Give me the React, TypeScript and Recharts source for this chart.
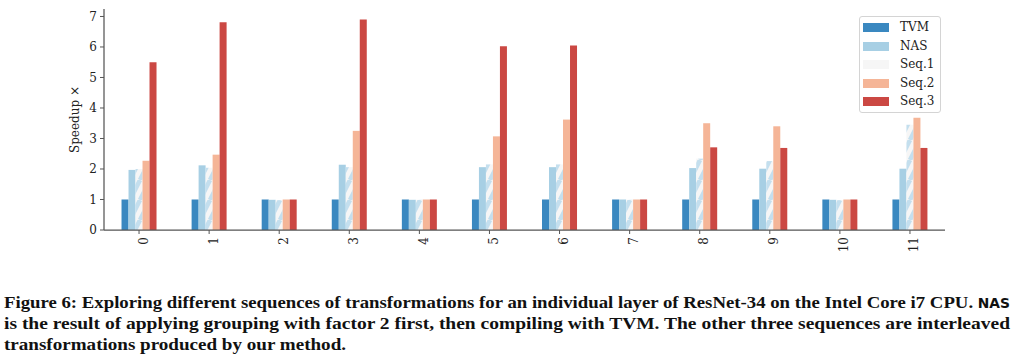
import { BarChart, Bar, XAxis, YAxis } from 'recharts'

const layers = ['0', '1', '2', '3', '4', '5', '6', '7', '8', '9', '10', '11']
const tvm = [1, 1, 1, 1, 1, 1, 1, 1, 1, 1, 1, 1]
const nas = [1.97, 2.12, 0.99, 2.14, 0.99, 2.06, 2.06, 1.0, 2.03, 2.01, 0.99, 2.01]
const seq1 = [2.0, 2.04, 0.98, 2.06, 0.99, 2.15, 2.15, 0.99, 2.34, 2.26, 0.98, 3.45]
const seq2 = [2.27, 2.47, 1.0, 3.25, 1.0, 3.07, 3.62, 1.0, 3.5, 3.4, 1.0, 3.68]
const seq3 = [5.5, 6.81, 1.0, 6.9, 1.0, 6.02, 6.05, 1.0, 2.71, 2.69, 1.0, 2.69]
const yTicks = [0, 1, 2, 3, 4, 5, 6, 7]

const SERIES = [
  { key: 'tvm', name: 'TVM', color: '#3a88c0' },
  { key: 'nas', name: 'NAS', color: '#a7cfe4' },
  { key: 'seq1', name: 'Seq.1', color: '#f6f6f6' },
  { key: 'seq2', name: 'Seq.2', color: '#f5b597' },
  { key: 'seq3', name: 'Seq.3', color: '#cb4843' },
]

const data = layers.map((l, i) => ({
  layer: l,
  tvm: tvm[i],
  nas: nas[i],
  seq1: seq1[i],
  seq2: seq2[i],
  seq3: seq3[i],
}))

const serif = "'DejaVu Serif', serif"
const tickStyle = { fill: '#222', fontSize: 12, fontFamily: serif }

function LegendBox() {
  return (
    <div style={{
      position: 'absolute', left: 859, top: 16, width: 82, height: 97,
      boxSizing: 'border-box', border: '1px solid #d4d4d4', borderRadius: 3,
      background: 'rgba(255,255,255,0.8)', fontFamily: serif, fontSize: 12, color: '#222',
    }}>
      {SERIES.map((s, i) => (
        <div key={s.key} style={{ position: 'absolute', left: 0, top: 3 + i * 18.5, height: 14, width: 80 }}>
          <div style={{ position: 'absolute', left: 3, top: 3, width: 26, height: 9, background: s.color }} />
          <span style={{ position: 'absolute', left: 40, top: -1, lineHeight: '16px', whiteSpace: 'nowrap' }}>{s.name}</span>
        </div>
      ))}
    </div>
  )
}

export default function App() {
  return (
    <div style={{ position: 'absolute', left: 0, top: 0, width: 1018, height: 357, background: '#fff' }}>
      <BarChart width={1018} height={270} data={data} margin={{ top: 9, right: 73, bottom: 0, left: 0 }}
        barCategoryGap="25%" barGap={0}>
        <defs>
          <pattern id="hatch" patternUnits="userSpaceOnUse" width="10" height="20">
            <rect width="10" height="20" fill="#f6f6f6" />
            <path d="M-10,20 L0,0 M0,20 L10,0 M10,20 L20,0" stroke="#c4dfee" strokeWidth="4.5" />
          </pattern>
        </defs>
        <XAxis dataKey="layer" height={40} interval={0} tickSize={4} tickMargin={3}
          axisLine={{ stroke: '#555', strokeWidth: 1.25 }} tickLine={{ stroke: '#555' }}
          tick={{ ...tickStyle, angle: -90, textAnchor: 'end', verticalAnchor: 'middle' }} />
        <YAxis width={104} domain={[0, 7.245]} ticks={yTicks} tickSize={4} tickMargin={3}
          axisLine={{ stroke: '#555', strokeWidth: 1.25 }} tickLine={{ stroke: '#555' }}
          tick={tickStyle} allowDataOverflow
          label={{ value: 'Speedup ×', angle: -90, position: 'center', dx: 23, fill: '#222', fontSize: 12, fontFamily: serif }} />
        {SERIES.map(s => (
          <Bar key={s.key} dataKey={s.key} name={s.name}
            fill={s.key === 'seq1' ? 'url(#hatch)' : s.color} isAnimationActive={false} />
        ))}
      </BarChart>
      <LegendBox />
      <svg width={1018} height={87} style={{ position: 'absolute', left: 0, top: 270 }}>
        <g fontFamily="'Liberation Serif', serif" fontWeight="bold" fontSize={16.5} fill="#111">
          <text x={4} y={38} textLength={1006} lengthAdjust="spacingAndGlyphs">
            Figure 6: Exploring different sequences of transformations for an individual layer of ResNet-34 on the Intel Core i7 CPU. <tspan fontFamily="'DejaVu Sans Condensed', 'DejaVu Sans', sans-serif" fontSize={13.5}>NAS</tspan>
          </text>
          <text x={4} y={59} textLength={1006} lengthAdjust="spacingAndGlyphs">
            is the result of applying grouping with factor 2 first, then compiling with TVM. The other three sequences are interleaved
          </text>
          <text x={4} y={80} textLength={342} lengthAdjust="spacingAndGlyphs">
            transformations produced by our method.
          </text>
        </g>
      </svg>
    </div>
  )
}
